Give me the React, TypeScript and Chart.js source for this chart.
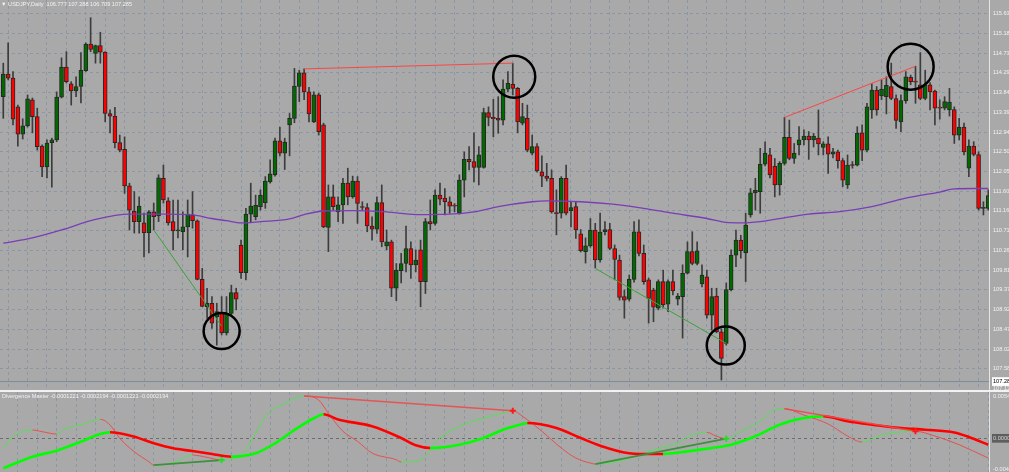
import React, { useEffect, useRef } from "react";
import { Chart, registerables } from "chart.js";
Chart.register(...registerables);

// ---------- price candles (USDJPY Daily), bar index 0..203 ----------
const opens = [
  113.74, 114.25, 114.16, 113.51, 112.89, 113.08, 113.67, 113.29, 112.62, 112.15,
  112.70, 112.76, 113.73, 114.41, 114.03, 113.87, 113.97, 114.33, 114.93, 114.72,
  114.90, 114.75, 113.36, 113.30, 112.70, 112.55, 111.72, 111.15, 110.91, 110.88,
  110.66, 111.13, 111.04, 111.89, 111.38, 110.91, 110.70, 110.68, 110.79, 111.06,
  110.93, 109.60, 108.98, 109.06, 108.75, 108.85, 108.39, 108.83, 109.30, 110.38,
  109.75, 111.08, 111.02, 111.25, 111.34, 111.81, 111.97, 112.74, 112.46, 113.10,
  113.25, 113.97, 114.28, 113.85, 113.17, 113.78, 113.10, 110.78, 111.47, 111.13,
  111.29, 111.78, 111.47, 111.83, 111.25, 111.23, 110.81, 110.74, 111.34, 110.36,
  110.45, 109.40, 109.80, 109.96, 110.30, 109.93, 110.27, 109.55, 110.91, 110.87,
  111.51, 111.44, 111.36, 111.27, 111.10, 111.85, 112.32, 112.27, 112.14, 112.14,
  113.38, 113.27, 113.25, 113.21, 113.91, 114.02, 113.93, 113.14, 113.25, 112.46,
  112.61, 112.04, 111.94, 111.89, 111.10, 111.10, 111.89, 111.16, 111.25, 110.63,
  110.23, 110.36, 110.72, 110.04, 110.68, 110.73, 110.30, 110.04, 109.21, 109.15,
  109.60, 110.68, 110.19, 109.59, 109.36, 108.95, 109.55, 109.04, 109.55, 109.15,
  109.21, 109.74, 110.23, 109.96, 109.50, 109.66, 108.79, 109.22, 108.41, 108.15,
  109.37, 110.15, 110.49, 110.20, 111.06, 111.56, 111.59, 112.21, 112.42, 112.17,
  111.74, 112.23, 112.82, 112.34, 112.65, 112.76, 112.85, 112.76, 112.80, 112.59,
  112.67, 112.44, 112.49, 112.29, 111.74, 112.19, 112.19, 112.92, 112.53, 113.44,
  113.89, 113.76, 113.74, 113.97, 113.70, 113.17, 113.65, 114.18, 114.08, 114.01,
  113.70, 114.01, 113.87, 113.49, 113.48, 113.44, 113.45, 112.87, 113.05, 112.12,
  112.62, 112.43, 111.21, 111.21,
];
const highs = [
  114.50, 114.96, 114.31, 113.55, 113.24, 113.78, 113.71, 113.48, 112.65, 112.76,
  112.80, 113.85, 114.62, 114.76, 114.08, 114.19, 114.74, 114.96, 115.53, 114.91,
  115.20, 114.76, 113.44, 113.50, 112.87, 112.83, 111.78, 111.59, 111.47, 111.10,
  111.16, 111.33, 111.97, 112.19, 111.45, 111.40, 111.40, 111.13, 111.40, 111.59,
  110.95, 109.85, 109.40, 109.21, 109.06, 109.21, 109.21, 109.47, 109.40, 110.49,
  111.21, 111.78, 111.51, 111.63, 111.93, 112.31, 112.80, 113.05, 112.80, 113.36,
  114.38, 114.34, 114.37, 113.95, 113.85, 113.82, 113.14, 111.74, 111.74, 111.47,
  111.89, 112.12, 111.94, 111.93, 111.36, 111.32, 111.02, 111.47, 111.74, 110.72,
  110.49, 109.96, 110.19, 110.81, 110.45, 110.27, 110.49, 110.98, 111.40, 111.63,
  111.78, 111.66, 111.47, 111.32, 111.97, 112.49, 112.61, 112.92, 112.61, 113.48,
  113.51, 113.68, 113.74, 114.12, 114.31, 114.50, 113.95, 113.59, 113.55, 112.87,
  112.68, 112.40, 112.23, 112.08, 111.63, 111.93, 112.19, 111.36, 111.36, 110.73,
  110.54, 110.98, 110.87, 111.10, 110.91, 110.87, 110.38, 110.15, 109.36, 109.70,
  110.91, 110.95, 110.38, 109.63, 109.40, 109.59, 109.81, 109.59, 109.81, 109.28,
  109.93, 110.45, 110.68, 110.45, 109.93, 109.81, 109.40, 109.40, 108.48, 109.52,
  110.27, 110.72, 110.60, 111.10, 111.66, 111.89, 112.57, 112.72, 112.57, 112.34,
  112.27, 113.27, 113.21, 112.68, 113.06, 112.99, 112.95, 112.91, 113.44, 112.72,
  112.83, 112.57, 112.53, 112.34, 112.42, 112.27, 113.06, 113.10, 113.59, 114.04,
  113.97, 114.12, 114.19, 114.50, 113.78, 113.78, 114.31, 114.23, 114.43, 114.74,
  114.34, 114.06, 113.89, 113.67, 113.74, 113.93, 113.51, 113.25, 113.14, 112.76,
  112.72, 112.49, 111.36, 111.63,
];
const lows = [
  113.25, 114.12, 113.10, 112.62, 112.78, 113.05, 112.92, 112.53, 111.93, 111.90,
  111.69, 112.72, 113.71, 114.05, 113.55, 113.74, 113.60, 114.31, 114.76, 114.50,
  114.50, 113.17, 112.92, 112.58, 112.49, 111.55, 110.72, 110.65, 110.65, 110.11,
  110.20, 110.72, 110.91, 111.33, 110.83, 110.27, 110.54, 110.27, 110.11, 110.76,
  109.59, 108.98, 108.72, 108.49, 108.11, 108.34, 108.34, 108.79, 108.91, 109.62,
  109.59, 110.90, 110.95, 111.17, 111.21, 111.78, 111.94, 112.40, 112.09, 112.40,
  113.15, 113.63, 113.67, 113.17, 113.15, 112.87, 110.77, 110.23, 111.17, 110.91,
  110.87, 111.29, 111.44, 110.87, 111.17, 110.68, 110.49, 110.64, 110.34, 110.27,
  109.21, 109.12, 109.52, 109.77, 109.62, 109.77, 108.98, 109.28, 110.72, 110.83,
  111.29, 111.06, 111.10, 111.13, 111.08, 111.47, 112.08, 111.81, 111.74, 112.12,
  113.08, 112.83, 112.91, 113.10, 113.85, 113.78, 112.92, 113.10, 112.49, 112.42,
  112.03, 111.70, 111.83, 111.10, 110.61, 110.99, 111.06, 110.79, 110.53, 110.22,
  109.97, 110.33, 109.86, 109.99, 110.61, 110.27, 109.59, 109.13, 108.72, 109.11,
  109.54, 110.13, 109.49, 108.61, 108.64, 108.91, 108.95, 108.87, 109.25, 109.02,
  108.27, 109.72, 109.93, 109.93, 109.43, 108.72, 108.45, 108.39, 107.32, 108.11,
  109.34, 109.89, 110.08, 109.55, 111.01, 111.17, 111.10, 112.17, 111.90, 111.47,
  111.51, 112.19, 112.31, 112.23, 112.42, 112.65, 112.32, 112.60, 112.42, 112.42,
  112.00, 112.35, 112.12, 111.70, 111.66, 112.12, 112.17, 112.29, 112.49, 113.25,
  113.32, 113.67, 113.35, 113.67, 113.02, 112.95, 113.59, 114.01, 113.59, 113.67,
  113.67, 113.44, 113.10, 113.23, 113.44, 113.30, 112.68, 112.76, 112.42, 111.93,
  112.40, 111.17, 111.06, 111.17,
];
const closes = [
  114.25, 114.16, 113.23, 112.89, 113.08, 113.69, 113.29, 112.61, 112.15, 112.69,
  112.76, 113.73, 114.41, 114.08, 113.87, 113.97, 114.34, 114.93, 114.81, 114.90,
  114.75, 113.36, 113.30, 112.70, 112.53, 111.72, 111.17, 110.91, 111.26, 110.66,
  111.13, 111.02, 111.90, 111.40, 110.88, 110.70, 110.72, 110.79, 111.08, 110.93,
  109.60, 108.99, 109.06, 108.61, 108.87, 108.39, 108.83, 109.30, 109.15, 109.75,
  111.08, 111.26, 111.28, 111.51, 111.83, 111.99, 112.74, 112.46, 112.71, 113.25,
  113.98, 114.28, 113.85, 113.35, 113.78, 112.95, 110.79, 111.47, 111.25, 111.29,
  111.78, 111.47, 111.83, 111.32, 111.23, 110.81, 110.74, 111.34, 110.45, 110.45,
  109.40, 109.81, 109.96, 110.30, 109.93, 110.04, 109.55, 110.91, 110.86, 111.51,
  111.42, 111.36, 111.26, 111.26, 111.85, 112.32, 112.27, 112.14, 112.42, 113.38,
  113.27, 113.24, 113.21, 113.91, 114.04, 113.93, 113.17, 113.29, 112.53, 112.61,
  112.06, 111.94, 111.89, 111.13, 111.09, 111.89, 111.10, 111.23, 110.72, 110.25,
  110.36, 110.72, 110.04, 110.67, 110.73, 110.30, 110.05, 109.19, 109.13, 109.60,
  110.68, 110.19, 109.55, 109.17, 108.97, 109.55, 109.02, 109.55, 109.34, 109.22,
  109.74, 110.23, 109.96, 110.25, 109.70, 108.79, 109.21, 108.41, 107.81, 109.37,
  110.15, 110.49, 110.25, 110.83, 111.56, 111.62, 112.21, 112.46, 111.97, 111.74,
  112.23, 112.82, 112.34, 112.46, 112.76, 112.85, 112.76, 112.85, 112.67, 112.67,
  112.44, 112.49, 112.29, 111.85, 112.19, 112.18, 112.91, 112.53, 113.51, 113.89,
  113.44, 113.91, 114.00, 113.70, 113.20, 113.65, 114.19, 114.08, 114.07, 113.70,
  114.01, 113.85, 113.48, 113.48, 113.63, 113.62, 112.87, 113.05, 112.49, 112.62,
  112.43, 111.21, 111.22, 111.50,
];

// moving average (purple) read at sampled bars
const maIdx = [0, 6, 12, 19, 26, 33, 39, 43, 46, 49, 53, 59, 62, 66, 72, 79, 85, 92, 97, 102,
  109, 112, 119, 125, 132, 138, 145, 149, 152, 156, 159, 166, 172, 179, 186, 193, 196, 200, 203];
const maVal = [110.42, 110.54, 110.72, 110.96, 111.08, 111.08, 111.06, 110.98, 110.93, 110.88,
  110.91, 110.97, 111.07, 111.15, 111.16, 111.13, 111.07, 111.08, 111.13, 111.25,
  111.36, 111.38, 111.36, 111.31, 111.21, 111.10, 110.98, 110.89, 110.88, 110.91,
  110.96, 111.08, 111.13, 111.25, 111.44, 111.58, 111.65, 111.66, 111.66];

// divergence lines on the price chart: [startBar, startPrice, endBar, endPrice]
const priceDivRed = [[62, 114.37, 105, 114.50], [161, 113.27, 188, 114.43]];
const priceDivGreen = [[31, 110.72, 45, 108.54], [122, 109.85, 149, 108.15]];

// circled swing points
const circleBar = [45.0, 105.3, 148.9, 187.0];
const circlePrice = [108.43, 114.19, 108.10, 114.42];
const circleSize = [18, 21, 19, 23];

const bidPrice = 107.285;
const bottomPrice = 107.13;
const priceTicks = [115.63, 115.18, 114.73, 114.29, 113.84, 113.39, 112.94, 112.50, 112.05, 111.60,
  111.16, 110.71, 110.26, 109.81, 109.37, 108.92, 108.47, 108.02, 107.58];

// ---------- Divergence Master indicator ----------
const fastIdx = [0, 2, 6, 8, 11, 13, 16, 20, 22, 24, 27, 30, 31, 35, 39, 42, 45, 49, 52, 54,
  58, 62, 65, 67, 70, 73, 76, 81, 82, 86, 90, 94, 99, 103, 105, 107, 111, 115, 118, 121,
  122, 128, 133, 139, 142, 145, 147, 149, 152, 156, 159, 161, 165, 170, 174, 177, 181, 183, 188, 192,
  197, 203];
const fastVal = [-0.00130, 0.00021, 0.00108, 0.00086, 0.00056, 0.00130, 0.00173, 0.00247, 0.00173, 0.00000,
  -0.00174, -0.00304, -0.00347, -0.00317, -0.00217, -0.00247, -0.00282, -0.00217, 0.00065, 0.00280,
  0.00454, 0.00549, 0.00497, 0.00325, 0.00091, -0.00039, -0.00191, -0.00278, -0.00308, -0.00278,
  0.00004, 0.00156, 0.00263, 0.00328, 0.00358, 0.00286, 0.00091, -0.00126, -0.00256, -0.00321,
  -0.00334, -0.00278, -0.00169, -0.00061, 0.00047, 0.00078, 0.00026, -0.00005, 0.00091, 0.00221,
  0.00371, 0.00384, 0.00302, 0.00186, 0.00030, -0.00048, 0.00039, 0.00069, 0.00091, 0.00030,
  -0.00083, -0.00256];
const slowIdx = [0, 6, 11, 16, 20, 22, 27, 31, 35, 39, 43, 47, 52, 56, 60, 64, 66, 69, 76, 82,
  85, 88, 94, 99, 103, 107, 108, 114, 119, 124, 130, 136, 141, 146, 150, 155, 160, 165, 169, 174,
  179, 185, 190, 196, 199, 203];
const slowVal = [-0.00389, -0.00239, -0.00161, -0.00044, 0.00056, 0.00078, 0.00021, -0.00065, -0.00130, -0.00165,
  -0.00204, -0.00239, -0.00195, -0.00065, 0.00108, 0.00260, 0.00312, 0.00245, 0.00156, 0.00004,
  -0.00091, -0.00126, -0.00083, 0.00004, 0.00112, 0.00186, 0.00199, 0.00134, 0.00004, -0.00117,
  -0.00200, -0.00204, -0.00169, -0.00126, -0.00083, 0.00026, 0.00177, 0.00263, 0.00286, 0.00221,
  0.00177, 0.00134, 0.00112, 0.00075, 0.00017, -0.00083];
const indDivRed = [[62, 0.00549, 105, 0.00358], [161, 0.00384, 188, 0.00091]];
const indDivGreen = [[31, -0.00347, 45, -0.00282], [122, -0.00334, 149, -0.00005]];
const arrowRedBar = [105, 188];
const arrowRedVal = [0.00358, 0.00091];
const arrowGreenBar = [45, 149];
const arrowGreenVal = [-0.00282, -0.00005];
const indTicks = [0.0054, 0.0, -0.004];

// ---------- layout / style ----------
const W = 1009;
const MAIN_H = 390;
const IND_H = 80;
const AXIS_W = 20;
const X_MIN = -0.68;
const X_MAX = 203.15;
const PRICE_MAX = 115.931;
const PRICE_MIN = 107.094;
const IND_MAX = 0.00601;
const IND_MIN = -0.00437;
const BG = "#a9a9a9";
const GRID = "#8b97a5";
const TXT = "#f2f2f2";
const FONT = "'Liberation Sans', Arial, sans-serif";
const FS = 5.6;

const gridBars: number[] = [];
for (let b = 3; b <= 203; b += 4) gridBars.push(b);

const segPts = (s: number[]) => [{ x: s[0], y: s[1] }, { x: s[2], y: s[3] }];

function xScale() {
  return {
    type: "linear",
    min: X_MIN,
    max: X_MAX,
    offset: false,
    ticks: { display: false },
    grid: { color: GRID, lineWidth: 1, drawTicks: false },
    border: { display: false, dash: [3, 3] },
    afterBuildTicks: (s: any) => {
      s.ticks = gridBars.map((v) => ({ value: v }));
    },
    afterFit: (s: any) => {
      s.height = 0;
      s.paddingLeft = 0;
      s.paddingRight = 0;
    },
  };
}

const common = {
  responsive: false,
  animation: false,
  events: [],
  layout: { padding: 0, autoPadding: false },
  plugins: { legend: { display: false }, tooltip: { enabled: false }, title: { display: false } },
};

function mainConfig(): any {
  const bars = opens.map((_, i) => i);
  const up = (i: number) => closes[i] >= opens[i];
  const datasets: any[] = [];
  datasets.push({
    type: "line",
    data: circleBar.map((x, k) => ({ x, y: circlePrice[k] })),
    showLine: false,
    pointRadius: circleSize,
    pointBorderColor: "#000000",
    pointBorderWidth: 2.5,
    pointBackgroundColor: "rgba(0,0,0,0)",
    order: 0,
  });
  priceDivRed.forEach((s) =>
    datasets.push({ type: "line", data: segPts(s), borderColor: "#ff4444", borderWidth: 1, pointRadius: 0, order: 1 })
  );
  priceDivGreen.forEach((s) =>
    datasets.push({ type: "line", data: segPts(s), borderColor: "#3aa23a", borderWidth: 1, pointRadius: 0, order: 1 })
  );
  datasets.push({
    type: "line",
    data: maIdx.map((x, k) => ({ x, y: maVal[k] })),
    borderColor: "#7a3db8",
    borderWidth: 1.3,
    pointRadius: 0,
    cubicInterpolationMode: "monotone",
    order: 2,
  });
  datasets.push({
    type: "bar",
    data: bars.map((i) => ({ x: i, y: [opens[i], closes[i]] })),
    barThickness: 4,
    grouped: false,
    backgroundColor: (c: any) => (up(c.dataIndex) ? "#006a00" : "#ff0000"),
    borderColor: "#262626",
    borderWidth: 1,
    borderSkipped: false,
    minBarLength: 1,
    order: 3,
  });
  datasets.push({
    type: "bar",
    data: bars.map((i) => ({ x: i, y: [lows[i], highs[i]] })),
    barThickness: 1,
    grouped: false,
    backgroundColor: "#3c3c3c",
    order: 4,
  });
  datasets.push({
    type: "line",
    data: [{ x: X_MIN, y: bidPrice }, { x: X_MAX, y: bidPrice }],
    borderColor: "#7d8b9a",
    borderWidth: 1,
    pointRadius: 0,
    order: 5,
  });
  const special = (v: number) => v === bidPrice || v === bottomPrice;
  return {
    type: "bar",
    data: { datasets },
    options: {
      ...common,
      scales: {
        x: xScale(),
        y: {
          type: "linear",
          position: "right",
          min: PRICE_MIN,
          max: PRICE_MAX,
          afterBuildTicks: (s: any) => {
            s.ticks = [...priceTicks, bidPrice, bottomPrice].map((v) => ({ value: v }));
          },
          afterFit: (s: any) => {
            s.width = AXIS_W;
            s.paddingTop = 0;
            s.paddingBottom = 0;
          },
          ticks: {
            autoSkip: false,
            padding: 4,
            font: { family: FONT, size: FS },
            color: (c: any) => (c.tick && c.tick.value === bidPrice ? "#000000" : TXT),
            callback: (v: any) => Number(v).toFixed(2),
            showLabelBackdrop: (c: any) => !!(c.tick && c.tick.value === bidPrice),
            backdropColor: "#ffffff",
            backdropPadding: { left: 1, right: 6, top: 1, bottom: 1 },
          },
          grid: {
            color: (c: any) => (c.tick && special(c.tick.value) ? "rgba(0,0,0,0)" : GRID),
            drawTicks: false,
          },
          border: { display: true, color: "rgba(240,240,240,0.85)", width: 1, dash: [3, 3] },
        },
      },
    },
  };
}

function indConfig(): any {
  const G = "#00ff00";
  const R = "#ff0000";
  const slope = (g: string, r: string) => (c: any) => (c.p1.parsed.y >= c.p0.parsed.y ? g : r);
  const datasets: any[] = [];
  datasets.push({
    type: "line",
    data: arrowRedBar.map((x, k) => ({ x, y: arrowRedVal[k] })),
    showLine: false,
    pointStyle: "cross",
    pointRadius: 3,
    pointBorderWidth: 2,
    pointBorderColor: "#ff1a1a",
    order: 0,
  });
  datasets.push({
    type: "line",
    data: arrowGreenBar.map((x, k) => ({ x, y: arrowGreenVal[k] })),
    showLine: false,
    pointStyle: "cross",
    pointRadius: 3,
    pointBorderWidth: 2,
    pointBorderColor: "#22dd22",
    order: 0,
  });
  indDivRed.forEach((s) =>
    datasets.push({ type: "line", data: segPts(s), borderColor: "rgba(235,75,75,0.9)", borderWidth: 1.5, pointRadius: 0, order: 1 })
  );
  indDivGreen.forEach((s) =>
    datasets.push({ type: "line", data: segPts(s), borderColor: "#3f8f3f", borderWidth: 1.8, pointRadius: 0, order: 1 })
  );
  datasets.push({
    type: "line",
    data: slowIdx.map((x, k) => ({ x, y: slowVal[k] })),
    borderWidth: 2.6,
    borderColor: G,
    segment: { borderColor: slope(G, R) },
    pointRadius: 0,
    cubicInterpolationMode: "monotone",
    order: 2,
  });
  datasets.push({
    type: "line",
    data: fastIdx.map((x, k) => ({ x, y: fastVal[k] })),
    borderWidth: 1,
    borderColor: "#55e055",
    segment: { borderColor: slope("#55e055", "#e65050") },
    pointRadius: 0,
    cubicInterpolationMode: "monotone",
    order: 3,
  });
  return {
    type: "line",
    data: { datasets },
    options: {
      ...common,
      scales: {
        x: xScale(),
        y: {
          type: "linear",
          position: "right",
          min: IND_MIN,
          max: IND_MAX,
          afterBuildTicks: (s: any) => {
            s.ticks = indTicks.map((v) => ({ value: v }));
          },
          afterFit: (s: any) => {
            s.width = AXIS_W;
            s.paddingTop = 0;
            s.paddingBottom = 0;
          },
          ticks: {
            autoSkip: false,
            padding: 4,
            font: { family: FONT, size: FS },
            color: (c: any) => (c.tick && c.tick.value === 0 ? "#d4d4d4" : TXT),
            callback: (v: any) => Number(v).toFixed(4),
            showLabelBackdrop: (c: any) => !!(c.tick && c.tick.value === 0),
            backdropColor: "#5e5e5e",
            backdropPadding: { left: 1, right: 6, top: 1, bottom: 1 },
          },
          grid: {
            color: (c: any) => (c.tick && c.tick.value === 0 ? "#6c6c6c" : "rgba(0,0,0,0)"),
            drawTicks: false,
          },
          border: { display: true, color: "rgba(240,240,240,0.85)", width: 1, dash: [3, 3] },
        },
      },
    },
  };
}

export default function App() {
  const mainRef = useRef<HTMLCanvasElement>(null);
  const indRef = useRef<HTMLCanvasElement>(null);
  useEffect(() => {
    const c1 = new Chart(mainRef.current as HTMLCanvasElement, mainConfig());
    const c2 = new Chart(indRef.current as HTMLCanvasElement, indConfig());
    return () => {
      c1.destroy();
      c2.destroy();
    };
  }, []);
  const titleStyle: React.CSSProperties = {
    position: "absolute",
    fontFamily: FONT,
    fontSize: FS + "px",
    lineHeight: "8px",
    color: TXT,
    whiteSpace: "pre",
    pointerEvents: "none",
  };
  return (
    <div style={{ position: "fixed", left: 0, top: 0, width: W, height: MAIN_H + 2 + IND_H, background: BG, overflow: "hidden" }}>
      <canvas ref={mainRef} width={W} height={MAIN_H} style={{ position: "absolute", left: 0, top: 0 }} />
      <div style={{ position: "absolute", left: 0, top: MAIN_H, width: W, height: 2, background: "#f2f2f2" }} />
      <canvas ref={indRef} width={W} height={IND_H} style={{ position: "absolute", left: 0, top: MAIN_H + 2 }} />
      <div style={{ ...titleStyle, left: 1, top: 0 }}>{"▼ USDJPY,Daily  106.777 107.288 106.709 107.285"}</div>
      <div style={{ ...titleStyle, left: 2, top: MAIN_H + 2 }}>
        {"Divergence Master -0.0001221 -0.0002194 -0.0001221 -0.0002194"}
      </div>
    </div>
  );
}
